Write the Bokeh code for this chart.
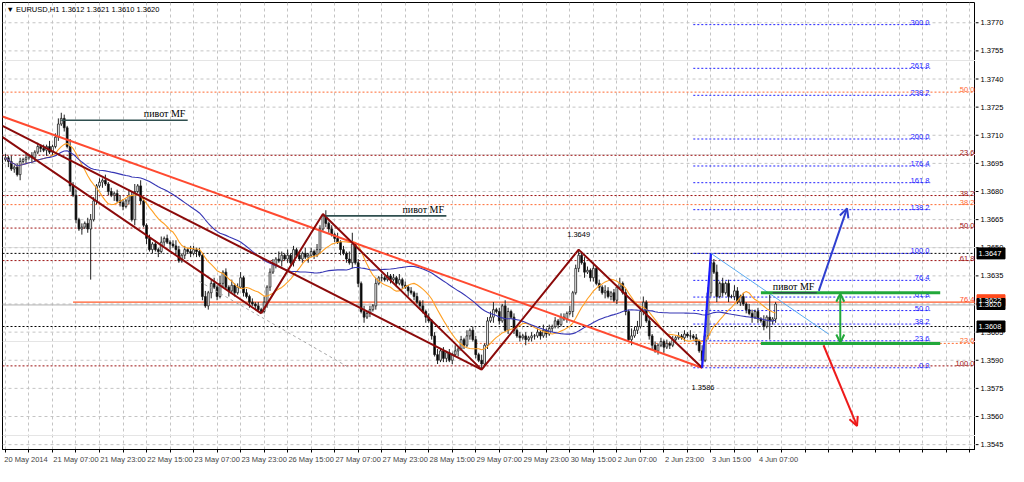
import numpy as np
from bokeh.plotting import figure
from bokeh.layouts import row
from bokeh.models import (FixedTicker, Arrow, OpenHead, ColumnDataSource, Range1d)
from bokeh.core.properties import value
from bokeh.embed import file_html
from bokeh.resources import INLINE

# ---------------- data ----------------
title_text = "\u25BC EURUSD,H1  1.3612 1.3621 1.3610 1.3620"
first_open = 1.3697
closes = [
    1.3698, 1.3696, 1.3692, 1.3693, 1.3689, 1.3696, 1.3697, 1.3698, 1.3699, 1.3698,
    1.3701, 1.3704, 1.3703, 1.3702, 1.3704, 1.3701, 1.3704, 1.3709, 1.3716, 1.3719,
    1.3714, 1.3704, 1.3683, 1.3678, 1.3665, 1.3660, 1.3661, 1.3663, 1.3660, 1.3665,
    1.3675, 1.3683, 1.3685, 1.3686, 1.3684, 1.3680, 1.3678, 1.3679, 1.3675, 1.3674,
    1.3672, 1.3675, 1.3678, 1.3665, 1.3680, 1.3683, 1.3675, 1.3662, 1.3655, 1.3649,
    1.3652, 1.3649, 1.3648, 1.3653, 1.3655, 1.3653, 1.3652, 1.3651, 1.3649, 1.3643,
    1.3646, 1.3649, 1.3648, 1.3647, 1.3649, 1.3648, 1.3646, 1.3624, 1.3619, 1.3626,
    1.3631, 1.3629, 1.3624, 1.3631, 1.3637, 1.3629, 1.3627, 1.3630, 1.3626, 1.3629,
    1.3634, 1.3626, 1.3624, 1.3621, 1.3620, 1.3619, 1.3617, 1.3616, 1.3621, 1.3629,
    1.3637, 1.3641, 1.3644, 1.3643, 1.3646, 1.3644, 1.3646, 1.3642, 1.3649, 1.3646,
    1.3644, 1.3647, 1.3645, 1.3646, 1.3648, 1.3646, 1.3649, 1.3660, 1.3667, 1.3663,
    1.3660, 1.3657, 1.3655, 1.3653, 1.3649, 1.3647, 1.3644, 1.3642, 1.3652, 1.3642,
    1.3631, 1.3616, 1.3613, 1.3615, 1.3617, 1.3619, 1.3631, 1.3634, 1.3634, 1.3633,
    1.3635, 1.3633, 1.3634, 1.3631, 1.3633, 1.3630, 1.3629, 1.3627, 1.3626, 1.3624,
    1.3621, 1.3619, 1.3616, 1.3613, 1.3611, 1.3603, 1.3593, 1.3590, 1.3595, 1.3591,
    1.3594, 1.3590, 1.3593, 1.3595, 1.3596, 1.3601, 1.3598, 1.3603, 1.3606, 1.3601,
    1.3593, 1.3590, 1.3588, 1.3598, 1.3611, 1.3613, 1.3617, 1.3616, 1.3611, 1.3619,
    1.3606, 1.3616, 1.3613, 1.3606, 1.3603, 1.3602, 1.3603, 1.3601, 1.3602, 1.3603,
    1.3603, 1.3605, 1.3603, 1.3606, 1.3604, 1.3607, 1.3608, 1.3611, 1.3609, 1.3613,
    1.3612, 1.3615, 1.3616, 1.3626, 1.3639, 1.3646, 1.3642, 1.3637, 1.3638, 1.3634,
    1.3639, 1.3631, 1.3629, 1.3626, 1.3627, 1.3624, 1.3626, 1.3622, 1.3629, 1.3631,
    1.3626, 1.3616, 1.3601, 1.3603, 1.3606, 1.3608, 1.3616, 1.3621, 1.3611, 1.3603,
    1.3598, 1.3595, 1.3598, 1.3600, 1.3597, 1.3599, 1.3598, 1.3601, 1.3602, 1.3603,
    1.3602, 1.3604, 1.3603, 1.3603, 1.3602, 1.3600, 1.3595, 1.3590, 1.3603, 1.3626,
    1.3642, 1.3637, 1.3624, 1.3631, 1.3626, 1.3631, 1.3624, 1.3624, 1.3627, 1.3621,
    1.3624, 1.3620, 1.3617, 1.3615, 1.3613, 1.3616, 1.3612, 1.3611, 1.3608, 1.3613,
    1.3611, 1.3612, 1.3620,
]
# upper / lower shadow length of each bar, in pips
wick_up = ("2131221312" "1212131235" "2142312133" "2121312123" "2132413212"
           "1213121232" "1213212131" "2314121312" "3121212131" "2314213121"
           "2131213223" "1213121431" "2131213121" "2121312121" "2131212312"
           "1213121312" "2131234121" "3212121212" "1213121212" "2131242321"
           "3121321213" "1214232312" "1212121212" "1213121313" "3241312132"
           "1213212131" "211")
wick_dn = ("1312131213" "2121312121" "2131213122" "1213121312" "2121312131"
           "2131213121" "1212131212" "3121213121" "1213121213" "2121312121"
           "1213121212" "2121312131" "2131212121" "1212121312" "1213121212"
           "2121312121" "2131213121" "1212121312" "2121212121" "1213121312"
           "2121312121" "1213121212" "2121312121" "1212121312" "2131213121"
           "2121312121" "122")
high_overrides = {19: 1.3722, 108: 1.3668, 118: 1.3658, 195: 1.3649, 240: 1.3647, 260: 1.3625}
low_overrides = {29: 1.3633, 87: 1.3615, 162: 1.3585, 237: 1.3586, 260: 1.3601}

date_labels = ["20 May 2014", "21 May 07:00", "21 May 23:00", "22 May 15:00", "23 May 07:00",
               "23 May 23:00", "26 May 15:00", "27 May 07:00", "27 May 23:00", "28 May 15:00",
               "29 May 07:00", "29 May 23:00", "30 May 15:00", "2 Jun 07:00", "2 Jun 23:00",
               "3 Jun 15:00", "4 Jun 07:00"]
date_bars = [0, 16, 32, 48, 64, 80, 96, 112, 128, 144, 160, 176, 192, 208, 224, 240, 256]
price_ticks = [1.3545, 1.3560, 1.3575, 1.3590, 1.3605, 1.3620, 1.3635, 1.3650,
               1.3665, 1.3680, 1.3695, 1.3710, 1.3725, 1.3740, 1.3755, 1.3770]
price_tick_labels = ["1.3545", "1.3560", "1.3575", "1.3590", "1.3605", "1.3620", "1.3635",
                     "1.3650", "1.3665", "1.3680", "1.3695", "1.3710", "1.3725", "1.3740",
                     "1.3755", "1.3770"]

zigzag_bars = [87, 108, 162, 195, 237]
zigzag_prices = [1.3615, 1.3668, 1.3585, 1.3649, 1.3586]
blue_leg_bars = [237, 240]
blue_leg_prices = [1.3586, 1.3647]
thin_leg_bars = [240, 280]
thin_leg_prices = [1.3647, 1.3604]
trend_red_bars = [-1, 237]
trend_red_prices = [1.3720, 1.3586]
trend_a_bars = [-1, 162]
trend_a_prices = [1.3715, 1.3585]
trend_b_bars = [-1, 87]
trend_b_prices = [1.3709, 1.3615]
gray_bars = [66, 117]
gray_prices = [1.3632, 1.3586]

red_fib_top, red_fib_bottom = 1.3734, 1.3587
red_fib_ratios = [23.6, 38.2, 50.0, 61.8, 100.0]
orange_labels = ["50.0", "38.2", "23.6"]
orange_prices = [1.3733, 1.3673, 1.3599]
orange_starts = [-1, -1, 160]
solid_label, solid_price, solid_start = "76.4", 1.3621, 23
black_levels = [1.3647, 1.3608]
bid_price = 1.3620
blue_fib_0, blue_fib_100 = 1.3586, 1.3647
blue_fib_ratios = [0.0, 23.6, 38.2, 50.0, 61.8, 76.4, 100.0, 138.2, 161.8, 176.4,
                   200.0, 238.2, 261.8, 300.0]
blue_fib_start, blue_fib_end = 234, 314.6

pivot_start = [19, 109, 261]
pivot_end = [62, 150, 276]
pivot_price = [1.3718, 1.3667, 1.3626]
pivot_text = "пивот MF"

green_start, green_end = 257, 318
green_top, green_bottom = 1.3626, 1.3599
green_arrow_bar = 284
up_arrow = (276.7, 1.3627, 286.3, 1.3671)
down_arrow = (278.3, 1.3598, 289.7, 1.3555)

box_texts = ["1.3647", "1.3622", "1.3620", "1.3608"]
box_prices = [1.3647, 1.3622, 1.3620, 1.3608]
box_colors = ["black", "#ff4a1c", "black", "black"]

# ---------------- figure ----------------
XMIN, XMAX = -1, 330
YMIN, YMAX = 1.35424, 1.37808
SANS = value("Liberation Sans")
H = 466
AXW = 33
BOTTOM = 17

p = figure(width=1008 - AXW, height=H, output_backend="svg", toolbar_location=None,
           x_range=Range1d(XMIN, XMAX), y_range=Range1d(YMIN, YMAX),
           y_axis_location=None)
p.background_fill_color = "white"
p.border_fill_color = "white"
p.outline_line_color = "black"
p.outline_line_width = 1
p.min_border_left = 2
p.min_border_top = 2
p.min_border_right = 0
p.min_border_bottom = BOTTOM

label_centers = [b + (8 if len(t) >= 12 else 7) for b, t in zip(date_bars, date_labels)]
grid_bars = list(range(0, 331, 8))
p.xaxis.ticker = FixedTicker(ticks=label_centers, minor_ticks=grid_bars)
p.xaxis.major_label_overrides = {c: t for c, t in zip(label_centers, date_labels)}
p.xaxis.major_tick_line_color = None
p.xaxis.major_tick_out = 0
p.xaxis.major_tick_in = 0
p.xaxis.minor_tick_out = 3
p.xaxis.minor_tick_in = 0
p.xaxis.minor_tick_line_color = "black"
p.xaxis.axis_line_color = "black"
p.xaxis.major_label_text_font = "Liberation Sans"
p.xaxis.major_label_text_font_size = "7.5px"
p.xaxis.major_label_standoff = 2

p.xgrid.ticker = FixedTicker(ticks=grid_bars)
p.xgrid.grid_line_color = "#c4c4c4"
p.xgrid.grid_line_dash = "3 3"
p.segment(x0=XMIN, x1=XMAX, y0=price_ticks, y1=price_ticks, line_color="#c4c4c4",
          line_dash="3 3", line_width=1)

# ---------------- horizontal levels ----------------
def hline(x0, x1, y, color, dash="solid", width=1):
    p.segment(x0=[x0], y0=[y], x1=[x1], y1=[y], line_color=color,
              line_dash=dash, line_width=width)

def rtext(x, y, t, color, size="7.5px", font=SANS, baseline="bottom", yoff=0):
    p.text(x=[x], y=[y], text=[t], text_color=color, text_font=font,
           text_font_size=size, text_align="right", text_baseline=baseline,
           y_offset=yoff)

DARKRED = "#9c1010"
ORANGE = "#ff6a30"
for r in red_fib_ratios:
    lvl = red_fib_top - (red_fib_top - red_fib_bottom) * r / 100.0
    hline(XMIN, XMAX, lvl, DARKRED, "2 2")
    rtext(329.6, lvl, f"{r:.1f}", DARKRED)
for lab, pr, st in zip(orange_labels, orange_prices, orange_starts):
    hline(st, XMAX, pr, ORANGE, "2 2")
    rtext(329.6, pr, lab, ORANGE)
hline(solid_start, XMAX, solid_price, "#ff5a2a", "solid", 1.3)
rtext(329.6, solid_price, solid_label, "#ff4a1c")
hline(XMIN, XMAX, bid_price - 0.00005, "#b0b0b0", "solid", 1)
for lv in black_levels:
    hline(XMIN, XMAX, lv, "black", "2 2")

BLUE = "#2222ff"
for r in blue_fib_ratios:
    lvl = blue_fib_0 + (blue_fib_100 - blue_fib_0) * r / 100.0
    hline(blue_fib_start, blue_fib_end, lvl, BLUE, "2 2")
    rtext(blue_fib_end - 0.3, lvl, f"{r:.1f}", BLUE)

# ---------------- candles ----------------
n = len(closes)
idx = np.arange(n)
opens = [first_open] + closes[:-1]
highs, lows = [], []
for i in range(n):
    hi = max(opens[i], closes[i]) + int(wick_up[i]) * 0.0001
    lo = min(opens[i], closes[i]) - int(wick_dn[i]) * 0.0001
    highs.append(high_overrides.get(i, hi))
    lows.append(low_overrides.get(i, lo))
src = ColumnDataSource(dict(x=idx, o=opens, c=closes, h=highs, l=lows,
                            top=[max(a, b) for a, b in zip(opens, closes)],
                            bot=[min(a, b) for a, b in zip(opens, closes)],
                            fill=["white" if c >= o else "black" for o, c in zip(opens, closes)]))
p.segment(x0="x", y0="l", x1="x", y1="h", source=src, line_color="#202020", line_width=1)
p.vbar(x="x", top="top", bottom="bot", width=0.62, source=src, fill_color="fill",
       line_color="#202020", line_width=0.8)

# moving averages
def sma(vals, k):
    return [float(np.mean(vals[max(0, i - k + 1): i + 1])) for i in range(len(vals))]

p.line(idx, sma(closes, 14), line_color="#ffa024", line_width=1.1)
p.line(idx, sma(closes, 50), line_color="#3636b4", line_width=1.1)

# ---------------- trend lines / zigzags ----------------
p.line(gray_bars, gray_prices, line_color="#a8a8a8", line_dash="3 3", line_width=1)
p.line(trend_red_bars, trend_red_prices, line_color="#ff4a30", line_width=2)
p.line(trend_a_bars, trend_a_prices, line_color="#8b0a0a", line_width=2)
p.line(trend_b_bars, trend_b_prices, line_color="#8b0a0a", line_width=2)
p.line(zigzag_bars, zigzag_prices, line_color="#8b0a0a", line_width=2)
p.line(blue_leg_bars, blue_leg_prices, line_color="#1a1aff", line_width=2.2)
p.line(thin_leg_bars, thin_leg_prices, line_color="#5aaaf0", line_width=1)

# green channel
hline(green_start, green_end, green_top, "#22a83a", "solid", 3)
hline(green_start, green_end, green_bottom, "#22a83a", "solid", 3)

# pivots
for s, e, pr in zip(pivot_start, pivot_end, pivot_price):
    hline(s, e, pr, "#2f4f4f", "solid", 1.6)
    rtext(e - 0.8, pr, pivot_text, "black", size="10px",
          font=value("Liberation Serif"), yoff=-1)

# swing labels
p.text(x=[195, 237.3], y=[1.3649, 1.3586], text=["1.3649", "1.3586"],
       text_font=SANS, text_font_size="7.5px", text_color="black",
       text_align="center", text_baseline="middle", y_offset=[-15, 20])

# title
p.text(x=[XMIN], y=[1.3777], text=[title_text], text_font=SANS, text_font_size="7.5px",
       text_color="black", text_align="left", text_baseline="middle", x_offset=4)

# arrows
p.add_layout(Arrow(start=OpenHead(size=8, line_color="#22a83a", line_width=2),
                   end=OpenHead(size=8, line_color="#22a83a", line_width=2),
                   x_start=green_arrow_bar, y_start=green_top - 0.00005,
                   x_end=green_arrow_bar, y_end=green_bottom + 0.00005,
                   line_color="#22a83a", line_width=2))
p.add_layout(Arrow(end=OpenHead(size=9, line_color="#2f3fcf", line_width=2),
                   x_start=up_arrow[0], y_start=up_arrow[1],
                   x_end=up_arrow[2], y_end=up_arrow[3],
                   line_color="#2f3fcf", line_width=2))
p.add_layout(Arrow(end=OpenHead(size=9, line_color="#ee1a1a", line_width=2),
                   x_start=down_arrow[0], y_start=down_arrow[1],
                   x_end=down_arrow[2], y_end=down_arrow[3],
                   line_color="#ee1a1a", line_width=2))

# ---------------- right price scale (separate narrow panel) ----------------
q = figure(width=AXW, height=H, output_backend="svg", toolbar_location=None,
           x_range=Range1d(0, AXW), y_range=p.y_range,
           x_axis_location=None, y_axis_location=None)
q.outline_line_color = None
q.background_fill_color = "white"
q.border_fill_color = "white"
q.xgrid.visible = False
q.ygrid.visible = False
q.min_border_left = 0
q.min_border_right = 0
q.min_border_top = 2
q.min_border_bottom = BOTTOM
q.segment(x0=0, x1=3, y0=price_ticks, y1=price_ticks, line_color="black", line_width=1)
q.text(x=5, y=price_ticks, text=price_tick_labels, text_font=SANS, text_font_size="7.5px",
       text_color="black", text_align="left", text_baseline="middle")
q.rect(x=15.5, y=box_prices, width=28, height=11, width_units="screen",
       height_units="screen", fill_color=box_colors, line_color=box_colors)
q.text(x=3, y=box_prices, text=box_texts, text_font=SANS, text_font_size="7.5px",
       text_color="white", text_align="left", text_baseline="middle")

layout = row(p, q, spacing=0)
open("out.html", "w").write(file_html(layout, INLINE))
